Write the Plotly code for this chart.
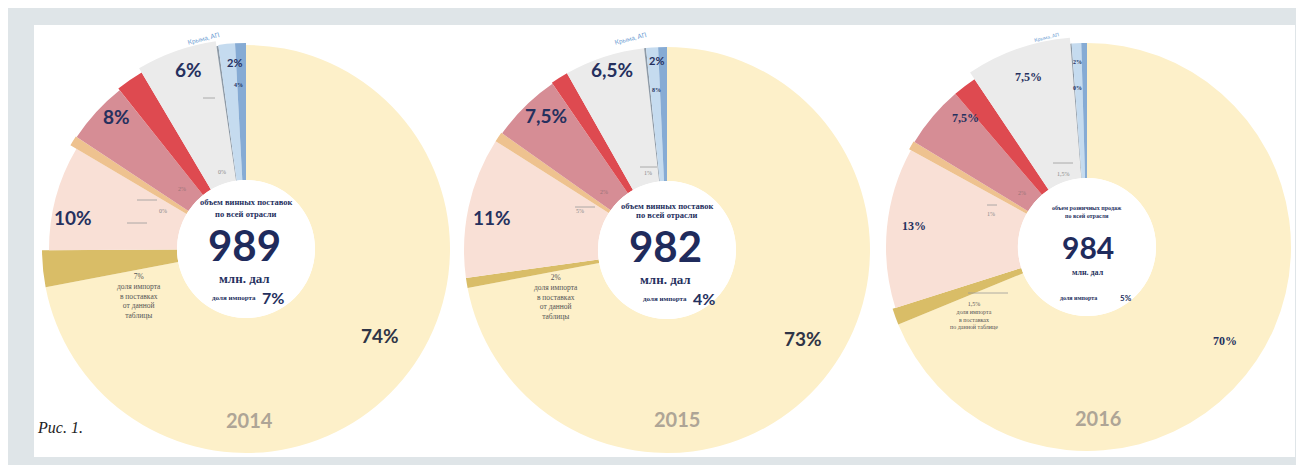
import plotly.graph_objects as go

# ---------------- DATA ----------------
years = ["2014", "2015", "2016"]
segments = ["сегмент 1", "доля импорта", "сегмент 2", "сегмент 3", "сегмент 4а",
            "сегмент 4б", "сегмент 5", "прочее", "Крым 1", "Крым 2"]

# slice shares (%), clockwise from 12 o'clock, as drawn
share_2014 = [72.0, 2.9, 8.6, 0.8, 5.0, 2.2, 6.2, 0.15, 1.3, 0.85]
share_2015 = [72.0, 0.8, 11.2, 0.8, 5.6, 1.4, 6.4, 0.15, 0.95, 0.7]
share_2016 = [68.8, 1.3, 12.9, 0.7, 5.0, 1.9, 8.1, 0.1, 0.75, 0.45]

totals = ["989", "982", "984"]
import_share = ["7%", "4%", "5%"]
gold_label = ["7%", "2%", "1,5%"]

labels_2014 = ["74%", "10%", "8%", "6%", "2%"]
labels_2015 = ["73%", "11%", "7,5%", "6,5%", "2%"]
labels_2016 = ["70%", "13%", "7,5%", "7,5%", "2%"]

# ---------------- STYLE ----------------
PAGE_W, PAGE_H = 1304, 465
OFF = 8                      # browser body margin
W, H = PAGE_W - OFF, PAGE_H - OFF
colors = ["#fdf0c9", "#d9bd67", "#f9e0d6", "#eec28f", "#d68d95",
          "#de4a50", "#ebebeb", "#8e9aa6", "#c5dbef", "#86abd4"]
radius_px = [
    [204, 204, 197, 204, 203, 205, 210, 205, 206, 206],
    [203, 203, 203, 203, 202, 203, 203, 203, 203, 203],
    [204, 204, 201, 203, 202, 202, 210, 204, 204, 204],
]
centers = [(246, 249), (667, 250), (1087, 247)]
R_FULL = 212
HOLE_PX = 69
NAVY = "#25305e"
GRAY_T = "#8a8a8a"


def xp(x):
    return (x - OFF) / W


def yp(y):
    return 1 - (y - OFF) / H


fig = go.Figure()
shares = [share_2014, share_2015, share_2016]
for i, (share, radii, (cx, cy)) in enumerate(zip(shares, radius_px, centers)):
    thetas, widths, acc = [], [], 0.0
    for s in share:
        widths.append(s * 3.6)
        thetas.append((acc + s / 2) * 3.6)
        acc += s
    r = [(R - HOLE_PX) / (R_FULL - HOLE_PX) for R in radii]
    name = "polar" if i == 0 else f"polar{i + 1}"
    fig.add_trace(go.Barpolar(
        r=r, theta=thetas, width=widths, customdata=share, text=segments,
        marker=dict(color=colors, line=dict(width=0)),
        subplot=name, showlegend=False,
        hovertemplate="%{text}: %{customdata}%<extra>" + years[i] + "</extra>"))
    fig.layout[name] = dict(
        domain=dict(x=[xp(cx - R_FULL), xp(cx + R_FULL)],
                    y=[yp(cy + R_FULL), yp(cy - R_FULL)]),
        hole=HOLE_PX / R_FULL, bgcolor="rgba(0,0,0,0)", bargap=0,
        radialaxis=dict(visible=False, range=[0, 1]),
        angularaxis=dict(visible=False, rotation=90, direction="clockwise"))

anns = []


def ann(x, y, text, size, color=NAVY, family="Lato", xanchor="center", angle=0, yanchor="middle"):
    anns.append(dict(x=xp(x), y=yp(y), xref="paper", yref="paper", text=text,
                     showarrow=False, xanchor=xanchor, yanchor=yanchor, textangle=angle,
                     font=dict(size=size, color=color, family=family)))


SERIF = "Liberation Serif"
all_labels = [labels_2014, labels_2015, labels_2016]

# big percentage labels (main, peach, rose, gray, blue)
pos_big = [
    [(380, 335), (73, 218), (116, 117), (188, 70), (234, 62)],
    [(803, 338), (492, 218), (546, 115), (612, 70), (657, 60)],
    [(1225, 341), (914, 226), (966, 118), (1028, 77), (1077, 62)],
]
for i in range(3):
    for j, (lab, (x, y)) in enumerate(zip(all_labels[i], pos_big[i])):
        if i < 2:
            size = 19 if j < 4 else 11
            ann(x, y, f"<b>{lab}</b>", size, "#2f3446" if j == 0 else NAVY)
        else:
            size = 12 if j < 4 else 6
            ann(x, y, f"<b>{lab}</b>", size, NAVY, SERIF)

# small labels inside slices
small = [
    (239, 85, "<b>4%</b>", NAVY), (222, 172, "0%", GRAY_T), (182, 189, "2%", "#9a7478"), (163, 211, "0%", GRAY_T),
    (657, 90, "<b>8%</b>", NAVY), (648, 173, "1%", GRAY_T), (604, 192, "2%", "#9a7478"), (580, 211, "5%", GRAY_T),
    (1077, 88, "<b>0%</b>", NAVY), (1063, 174, "1,5%", GRAY_T), (1022, 193, "2%", "#9a7478"), (991, 214, "1%", GRAY_T),
]
for x, y, t, c in small:
    ann(x, y, t, 6, c, SERIF)

# Crimea labels
for x, y, s in [(203, 38, 6.5), (630, 38, 6.5), (1047, 37, 5)]:
    ann(x, y, "Крыма, АП", s, "#6b9bd2", "Lato", angle=-14)

# gold (import) labels
gold_pos = [(163, 270, 7.5), (580, 271, 7.5), (1000, 299, 6)]
for i, (x, y, s) in enumerate(gold_pos):
    tail = "<br>доля импорта<br>в поставках<br>от данной<br>таблицы" if i < 2 else \
        "<br>доля импорта<br>в поставках<br>по данной таблице"
    ann(x, y, gold_label[i] + tail, s, "#555555", SERIF, xanchor="right", yanchor="top")

# centre texts
big_sizes = [42, 42, 30]
cap_sizes = [8.5, 8.5, 6]
for i, (cx, cy) in enumerate(centers):
    l1 = "объем винных поставок" if i < 2 else "объем розничных продаж"
    if i < 2:
        ann(cx, cy - 47 + 3 * i, f"<b>{l1}</b>", cap_sizes[i], NAVY, SERIF)
        ann(cx, cy - 35 + 0 * i, "<b>по всей отрасли</b>", cap_sizes[i], NAVY, SERIF)
        ann(cx - 2, cy - 4, f"<b>{totals[i]}</b>", big_sizes[i], "#1f2b5c", "Lato")
        ann(cx - 2, cy + 29, "<b>млн. дал</b>", 13, NAVY, SERIF)
        ann(cx + 12 + 10 * i, cy + 49, "<b>доля импорта</b>", 7, NAVY, SERIF, xanchor="right")
        ann(cx + 14 + 10 * i, cy + 48, f"<b>{import_share[i]}</b>", 16, NAVY, "Lato", xanchor="left")
    else:
        ann(cx, cy - 39, f"<b>{l1}</b>", cap_sizes[i], NAVY, SERIF)
        ann(cx, cy - 31, "<b>по всей отрасли</b>", cap_sizes[i], NAVY, SERIF)
        ann(cx + 1, cy, f"<b>{totals[i]}</b>", big_sizes[i], "#1f2b5c", "Lato")
        ann(cx + 1, cy + 25, "<b>млн. дал</b>", 8, NAVY, SERIF)
        ann(cx + 12, cy + 51, "<b>доля импорта</b>", 6, NAVY, SERIF, xanchor="right")
        ann(cx + 31, cy + 51, f"<b>{import_share[i]}</b>", 8, NAVY, "Lato", xanchor="left")

# years
for (x, y), yr in zip([(249, 420), (677, 419), (1098, 418)], years):
    ann(x, y, f"<b>{yr}</b>", 20, "#aea596", "Lato")

ann(35, 427, "<i>Рис. 1.</i>", 16, "#222222", SERIF, xanchor="left")

# white panel + small dashes (paper background is the grey frame)
shapes = [
    dict(type="rect", xref="paper", yref="paper", x0=xp(34), x1=xp(1295), y0=yp(457), y1=yp(25),
         fillcolor="#ffffff", line=dict(width=0), layer="below"),
]
dashes = [(203, 215, 98), (137, 157, 200), (127, 147, 223),
          (640, 657, 167), (575, 595, 207),
          (1053, 1073, 163), (987, 997, 205), (968, 1008, 293)]
for x0, x1, y in dashes:
    shapes.append(dict(type="line", xref="paper", yref="paper", x0=xp(x0), x1=xp(x1), y0=yp(y), y1=yp(y),
                       line=dict(color="#9a9a9a", width=0.8)))

fig.update_layout(width=W, height=H, autosize=False, margin=dict(l=0, r=0, t=0, b=0),
                  paper_bgcolor="#dfe5e8", plot_bgcolor="#dfe5e8",
                  annotations=anns, shapes=shapes)
fig.write_html("out.html")
